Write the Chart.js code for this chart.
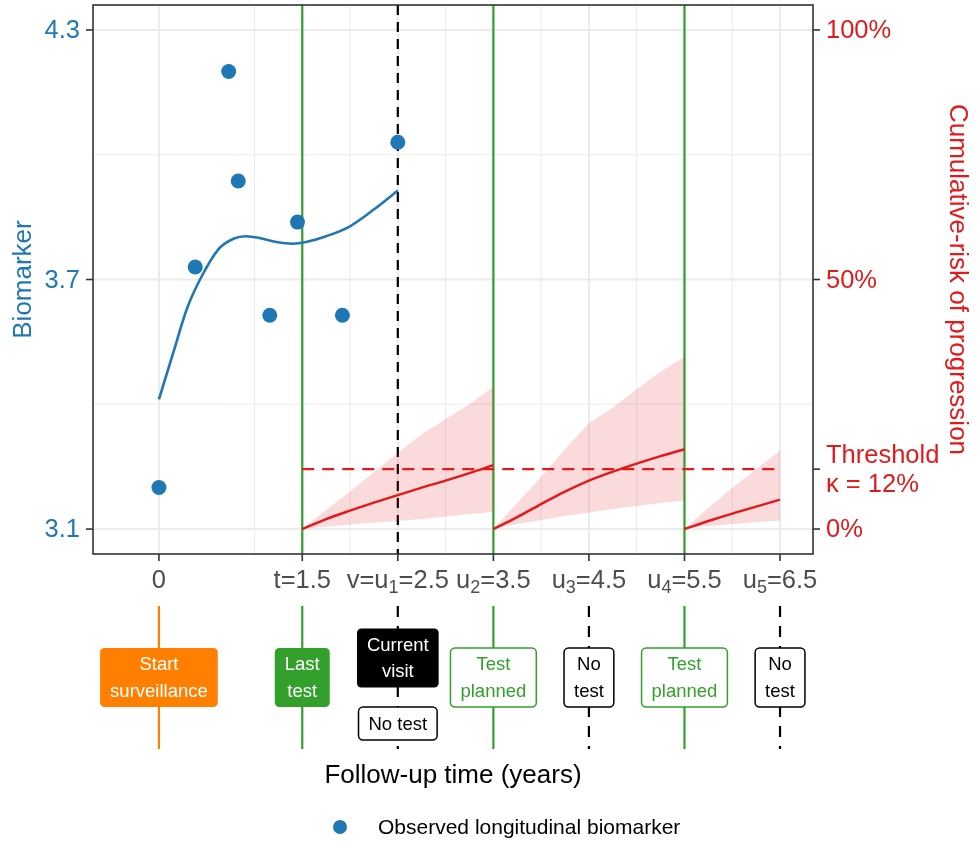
<!DOCTYPE html>
<html>
<head>
<meta charset="utf-8">
<script src="https://cdn.jsdelivr.net/npm/chart.js@4.4.0/dist/chart.umd.min.js"></script>
<style>
  html, body { margin: 0; padding: 0; background: #ffffff; }
  canvas { display: block; }
</style>
</head>
<body>
<canvas id="chart" width="979" height="841"></canvas>
<script>
// Observed longitudinal biomarker measurements (years, value)
const obsTime  = [0, 0.38, 0.73, 0.83, 1.16, 1.45, 1.92, 2.5];
const obsValue = [3.2, 3.73, 4.2, 3.937, 3.614, 3.838, 3.614, 4.03];

// Fitted biomarker trajectory up to the current visit
const fitTime  = [0, 0.15, 0.29, 0.43, 0.62, 0.78, 0.91, 1.05, 1.23, 1.4, 1.54, 1.75, 2.0, 2.27, 2.5];
const fitValue = [3.412, 3.524, 3.628, 3.70, 3.772, 3.798, 3.804, 3.80, 3.79, 3.786, 3.79, 3.804, 3.828, 3.872, 3.914];

// Cumulative risk of progression between planned tests (mean and 95% band)
const seg1Time  = [1.5, 1.75, 2, 2.25, 2.5, 2.75, 3, 3.25, 3.5];
const seg1Risk  = [0, 0.02, 0.037, 0.053, 0.068, 0.083, 0.097, 0.112, 0.128];
const seg1Upper = [0, 0.038, 0.075, 0.114, 0.153, 0.19, 0.22, 0.25, 0.285];
const seg1Lower = [0, 0.005, 0.009, 0.013, 0.016, 0.02, 0.025, 0.03, 0.034];

const seg2Time  = [3.5, 3.75, 4, 4.25, 4.5, 4.75, 5, 5.25, 5.5];
const seg2Risk  = [0, 0.024, 0.05, 0.075, 0.097, 0.115, 0.131, 0.146, 0.16];
const seg2Upper = [0, 0.052, 0.105, 0.16, 0.212, 0.243, 0.28, 0.315, 0.345];
const seg2Lower = [0, 0.01, 0.018, 0.026, 0.033, 0.04, 0.046, 0.052, 0.057];

const seg3Time  = [5.5, 5.75, 6, 6.25, 6.5];
const seg3Risk  = [0, 0.016, 0.031, 0.045, 0.059];
const seg3Upper = [0, 0.042, 0.082, 0.12, 0.157];
const seg3Lower = [0, 0.006, 0.01, 0.014, 0.017];

// Risk threshold
const thresholdTime = [1.5, 6.5];
const thresholdRisk = 0.12;

// Axis breaks and labels
const xBreaks      = [0, 1.5, 2.5, 3.5, 4.5, 5.5, 6.5];
const xMinorBreaks = [1, 2, 3, 4, 5, 6];
const xTickLabels  = ['0', 't=1.5', 'v=u_1=2.5', 'u_2=3.5', 'u_3=4.5', 'u_4=5.5', 'u_5=6.5'];
const yBreaks      = [3.1, 3.7, 4.3];
const yMinorBreaks = [3.4, 4.0];
const yTickLabels  = ['3.1', '3.7', '4.3'];
const riskBreaks   = [0, 0.12, 0.5, 1];
const riskTickLabels = [['0%'], ['Threshold', '\u03BA = 12%'], ['50%'], ['100%']];

// Surveillance timeline events
const eventTime  = [0, 1.5, 2.5, 3.5, 4.5, 5.5, 6.5];
const eventKind  = ['start', 'last', 'current', 'planned', 'none', 'planned', 'none'];
const eventLabel = [['Start', 'surveillance'], ['Last', 'test'], ['Current', 'visit'],
                    ['Test', 'planned'], ['No', 'test'], ['Test', 'planned'], ['No', 'test']];
const currentVisitNote = ['No test'];

const BLUE = '#1f78b4', RED = '#e31a1c', GREEN = '#33a02c', ORANGE = '#ff7f00';
const BAND = 'rgba(227,26,28,0.16)';
const FONT = '"Liberation Sans", Arial, Helvetica, sans-serif';
const font = s => s + 'px ' + FONT;

const pts = (xs, ys) => xs.map((t, i) => ({x: t, y: ys[i]}));

// Datasets
const datasets = [
  { type: 'scatter', label: 'Observed longitudinal biomarker', data: pts(obsTime, obsValue),
    yAxisID: 'y', backgroundColor: BLUE, borderColor: BLUE, borderWidth: 0, pointRadius: 7.5,
    order: 0 },
  { type: 'line', data: pts(fitTime, fitValue), yAxisID: 'y', borderColor: BLUE, borderWidth: 2.6,
    pointRadius: 0, cubicInterpolationMode: 'monotone', fill: false, order: 1 },
  { type: 'line', data: pts(thresholdTime, thresholdTime.map(() => thresholdRisk)), yAxisID: 'yRisk',
    borderColor: RED, borderWidth: 2.2, borderDash: [12, 8], pointRadius: 0, fill: false, order: 3 }
];
[[seg1Time, seg1Risk, seg1Upper, seg1Lower],
 [seg2Time, seg2Risk, seg2Upper, seg2Lower],
 [seg3Time, seg3Risk, seg3Upper, seg3Lower]].forEach(([t, m, u, l]) => {
  datasets.push({ type: 'line', data: pts(t, m), yAxisID: 'yRisk', borderColor: RED, borderWidth: 2.5,
    pointRadius: 0, cubicInterpolationMode: 'monotone', fill: false, order: 2 });
  const upperIndex = datasets.length;
  datasets.push({ type: 'line', data: pts(t, u), yAxisID: 'yRisk', borderColor: 'transparent',
    borderWidth: 0, pointRadius: 0, tension: 0, backgroundColor: BAND, fill: upperIndex + 1, order: 4 });
  datasets.push({ type: 'line', data: pts(t, l), yAxisID: 'yRisk', borderColor: 'transparent',
    borderWidth: 0, pointRadius: 0, tension: 0, fill: false, order: 4 });
});

function seg(ctx, x1, y1, x2, y2) {
  ctx.beginPath(); ctx.moveTo(x1, y1); ctx.lineTo(x2, y2); ctx.stroke();
}
function roundRect(ctx, x, y, w, h, r) {
  ctx.beginPath();
  ctx.moveTo(x + r, y);
  ctx.arcTo(x + w, y, x + w, y + h, r);
  ctx.arcTo(x + w, y + h, x, y + h, r);
  ctx.arcTo(x, y + h, x, y, r);
  ctx.arcTo(x, y, x + w, y, r);
  ctx.closePath();
}
// Label with "_d" parts drawn as subscripts
function drawSubLabel(ctx, text, cx, baseline) {
  const parts = text.split(/_(\d)/);
  const main = font(25.5), sub = font(18);
  let total = 0;
  parts.forEach((p, i) => { ctx.font = i % 2 ? sub : main; total += ctx.measureText(p).width; });
  let x = cx - total / 2;
  ctx.textAlign = 'left';
  ctx.textBaseline = 'alphabetic';
  parts.forEach((p, i) => {
    ctx.font = i % 2 ? sub : main;
    ctx.fillText(p, x, i % 2 ? baseline + 5 : baseline);
    x += ctx.measureText(p).width;
  });
}
function drawBox(ctx, cx, cy, lines, fillColor, strokeColor, textColor) {
  ctx.font = font(18.5);
  const tw = Math.max(...lines.map(s => ctx.measureText(s).width));
  const w = tw + 20, h = lines.length === 2 ? 59 : 33;
  roundRect(ctx, cx - w / 2, cy - h / 2, w, h, 4.5);
  ctx.fillStyle = fillColor; ctx.fill();
  if (strokeColor) { ctx.lineWidth = 1.5; ctx.strokeStyle = strokeColor; ctx.stroke(); }
  ctx.fillStyle = textColor;
  ctx.textAlign = 'center';
  ctx.textBaseline = 'middle';
  const gap = 26.5;
  lines.forEach((s, i) => ctx.fillText(s, cx, cy + (i - (lines.length - 1) / 2) * gap + 1));
}

const panelPlugin = {
  id: 'panel',
  beforeDatasetsDraw(chart) {
    const {ctx, chartArea: a, scales: {x, y}} = chart;
    ctx.save();
    ctx.beginPath(); ctx.rect(a.left, a.top, a.right - a.left, a.bottom - a.top); ctx.clip();
    ctx.strokeStyle = '#ebebeb';
    ctx.lineWidth = 1;
    xMinorBreaks.forEach(v => { const p = x.getPixelForValue(v); seg(ctx, p, a.top, p, a.bottom); });
    yMinorBreaks.forEach(v => { const p = y.getPixelForValue(v); seg(ctx, a.left, p, a.right, p); });
    ctx.lineWidth = 2;
    xBreaks.forEach(v => { const p = x.getPixelForValue(v); seg(ctx, p, a.top, p, a.bottom); });
    yBreaks.forEach(v => { const p = y.getPixelForValue(v); seg(ctx, a.left, p, a.right, p); });
    // test times (solid green) and current visit (dashed black)
    eventTime.forEach((t, i) => {
      const p = x.getPixelForValue(t);
      if (eventKind[i] === 'last' || eventKind[i] === 'planned') {
        ctx.setLineDash([]); ctx.strokeStyle = GREEN; ctx.lineWidth = 2.2;
        seg(ctx, p, a.top, p, a.bottom);
      } else if (eventKind[i] === 'current') {
        ctx.setLineDash([10, 7]); ctx.strokeStyle = '#000000'; ctx.lineWidth = 2.2;
        seg(ctx, p, a.top, p, a.bottom);
      }
    });
    ctx.restore();
  },
  afterDraw(chart) {
    const {ctx, chartArea: a, scales: {x, y, yRisk}} = chart;
    ctx.save();
    // panel border
    ctx.strokeStyle = '#333333'; ctx.lineWidth = 1.6;
    ctx.strokeRect(a.left, a.top, a.right - a.left, a.bottom - a.top);

    // left axis
    ctx.lineWidth = 1.6;
    ctx.font = font(25.5);
    yBreaks.forEach((v, i) => {
      const p = y.getPixelForValue(v);
      ctx.strokeStyle = '#333333'; seg(ctx, a.left - 7, p, a.left, p);
      ctx.fillStyle = BLUE; ctx.textAlign = 'right'; ctx.textBaseline = 'middle';
      ctx.fillText(yTickLabels[i], a.left - 13, p + 1);
    });
    // right axis
    riskBreaks.forEach((v, i) => {
      const p = yRisk.getPixelForValue(v);
      ctx.strokeStyle = '#333333'; seg(ctx, a.right, p, a.right + 7, p);
      ctx.fillStyle = RED; ctx.textAlign = 'left'; ctx.textBaseline = 'middle'; ctx.font = font(25.5);
      const lines = riskTickLabels[i];
      lines.forEach((s, j) => ctx.fillText(s, a.right + 13, p + 1 + (j - (lines.length - 1) / 2) * 29));
    });
    // bottom axis
    xBreaks.forEach((v, i) => {
      const p = x.getPixelForValue(v);
      ctx.strokeStyle = '#333333'; seg(ctx, p, a.bottom, p, a.bottom + 7);
      ctx.fillStyle = '#4d4d4d';
      drawSubLabel(ctx, xTickLabels[i], p, 588);
    });

    // axis titles
    ctx.font = font(26);
    ctx.textAlign = 'center'; ctx.textBaseline = 'alphabetic';
    ctx.fillStyle = BLUE;
    ctx.save(); ctx.translate(30.5, (a.top + a.bottom) / 2); ctx.rotate(-Math.PI / 2);
    ctx.fillText('Biomarker', 0, 0); ctx.restore();
    ctx.fillStyle = RED;
    ctx.save(); ctx.translate(950, (a.top + a.bottom) / 2); ctx.rotate(Math.PI / 2);
    ctx.fillText('Cumulative-risk of progression', 0, 0); ctx.restore();
    ctx.fillStyle = '#000000';
    ctx.fillText('Follow-up time (years)', (a.left + a.right) / 2, 783);

    // surveillance timeline
    const top = 606, bottom = 749;
    eventTime.forEach((t, i) => {
      const p = x.getPixelForValue(t);
      const kind = eventKind[i];
      ctx.lineWidth = 2.2;
      if (kind === 'start') { ctx.setLineDash([]); ctx.strokeStyle = ORANGE; }
      else if (kind === 'last' || kind === 'planned') { ctx.setLineDash([]); ctx.strokeStyle = GREEN; }
      else { ctx.setLineDash([11, 9]); ctx.strokeStyle = '#000000'; }
      seg(ctx, p, top, p, bottom);
      ctx.setLineDash([]);
      if (kind === 'start') drawBox(ctx, p, 677.5, eventLabel[i], ORANGE, null, '#ffffff');
      else if (kind === 'last') drawBox(ctx, p, 677.5, eventLabel[i], GREEN, null, '#ffffff');
      else if (kind === 'planned') drawBox(ctx, p, 677.5, eventLabel[i], '#ffffff', GREEN, GREEN);
      else if (kind === 'none') drawBox(ctx, p, 677.5, eventLabel[i], '#ffffff', '#000000', '#000000');
      else if (kind === 'current') {
        drawBox(ctx, p, 658, eventLabel[i], '#000000', null, '#ffffff');
        drawBox(ctx, p, 723.5, currentVisitNote, '#ffffff', '#000000', '#000000');
      }
    });

    // legend
    ctx.fillStyle = BLUE;
    ctx.beginPath(); ctx.arc(340, 827, 7, 0, Math.PI * 2); ctx.fill();
    ctx.fillStyle = '#000000'; ctx.font = font(21);
    ctx.textAlign = 'left'; ctx.textBaseline = 'alphabetic';
    ctx.fillText(datasets[0].label, 378, 834);
    ctx.restore();
  }
};

new Chart(document.getElementById('chart'), {
  type: 'line',
  data: { datasets },
  options: {
    responsive: false,
    devicePixelRatio: 1,
    animation: false,
    layout: { padding: { left: 93, right: 166, top: 5, bottom: 287 }, autoPadding: false },
    plugins: { legend: { display: false }, tooltip: { enabled: false } },
    scales: {
      x: { type: 'linear', axis: 'x', min: -0.69, max: 6.845, display: false },
      y: { type: 'linear', axis: 'y', min: 3.04, max: 4.36, display: false },
      yRisk: { type: 'linear', axis: 'y', position: 'right', min: -0.05, max: 1.05, display: false }
    }
  },
  plugins: [panelPlugin]
});
</script>
</body>
</html>
